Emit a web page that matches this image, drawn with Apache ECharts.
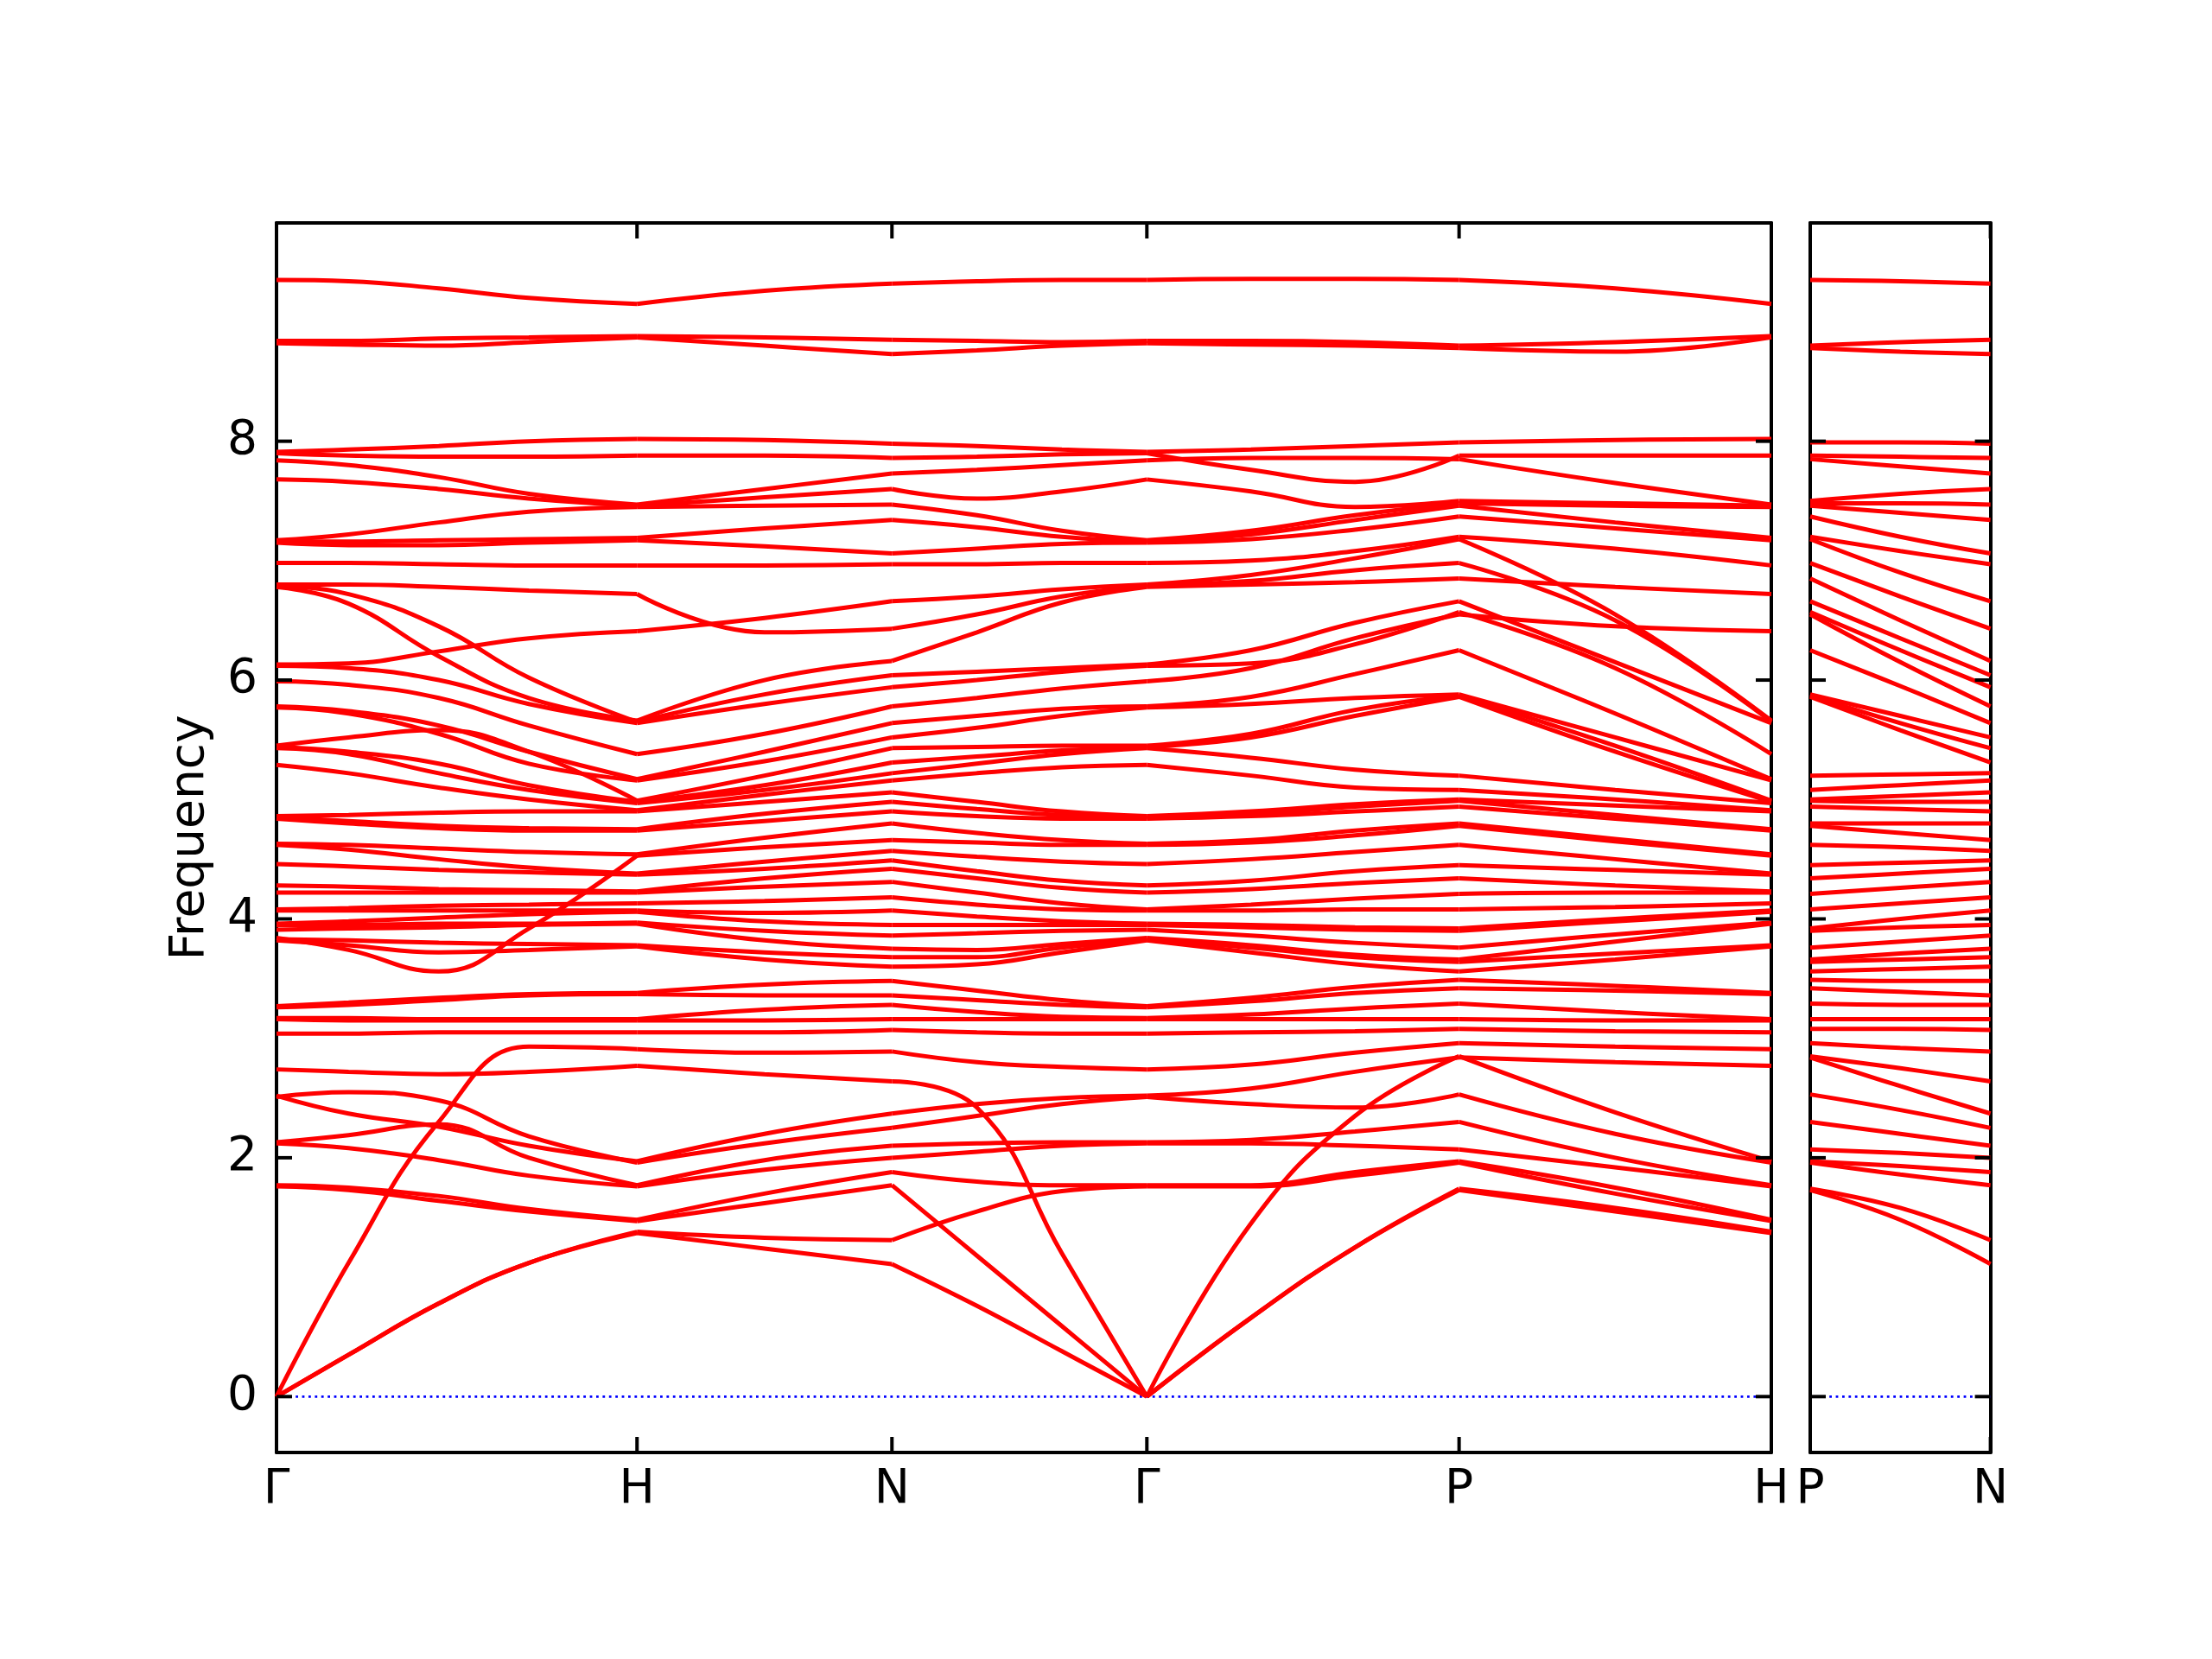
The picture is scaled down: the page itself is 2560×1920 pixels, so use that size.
<!DOCTYPE html>
<html><head><meta charset="utf-8">
<script src="https://cdn.jsdelivr.net/npm/echarts@6/dist/echarts.min.js"></script>
<style>html,body{margin:0;padding:0;background:#fff}#c{width:2560px;height:1920px}</style>
</head><body><div id="c"></div>
<script>
// high-symmetry path positions (reciprocal-space distance)
const kTicks = [0, 1.0, 1.7071, 2.4142, 3.2802, 4.1463];
const kLabels = ['Γ', 'H', 'N', 'Γ', 'P', 'H'];
const kTicks2 = [0, 0.5];
const kLabels2 = ['P', 'N'];
const yTicks = [0, 2, 4, 6, 8];

// sample positions of each path segment
const kGH = [0, 0.2, 0.45, 0.7, 1.0];
const kHN = [1.0, 1.3536, 1.7071];
const kNG = [1.7071, 1.9428, 2.1785, 2.4142];
const kGP = [2.4142, 2.7029, 2.9916, 3.2802];
const kPH = [3.2802, 3.7132, 4.1463];
const kPN = [0, 0.25, 0.5];

// frequencies, one row per band, per segment
const bandsGH = [
[9.35,9.34,9.28,9.20,9.15],[8.84,8.84,8.86,8.87,8.88],[8.82,8.81,8.80,8.83,8.87],
[7.91,7.93,7.96,8.00,8.02],[7.90,7.88,7.87,7.87,7.88],[7.84,7.80,7.70,7.56,7.47],
[7.68,7.66,7.60,7.52,7.46],[7.17,7.22,7.32,7.41,7.45],[7.16,7.16,7.17,7.18,7.19],
[7.15,7.13,7.13,7.15,7.17],[6.98,6.98,6.97,6.96,6.96],[6.80,6.80,6.78,6.75,6.72],
[6.13,6.14,6.24,6.35,6.41],[6.78,6.64,6.20,5.85,5.66],[6.79,6.72,6.45,6.02,5.65],
[6.12,6.10,6.00,5.80,5.64],[5.99,5.96,5.85,5.62,5.38],[5.78,5.74,5.62,5.40,5.17],
[5.77,5.72,5.55,5.30,5.16],[5.45,5.52,5.58,5.40,4.99],[5.44,5.40,5.30,5.12,4.98],
[5.43,5.38,5.22,5.08,4.97],[5.29,5.22,5.10,5.00,4.91],[4.86,4.87,4.89,4.90,4.90],
[4.85,4.82,4.78,4.76,4.75],[4.84,4.80,4.76,4.74,4.74],[4.63,4.62,4.59,4.56,4.54],
[4.62,4.58,4.50,4.43,4.38],[4.46,4.44,4.41,4.39,4.37],[4.28,4.27,4.25,4.24,4.23],
[4.22,4.22,4.22,4.22,4.22],[4.08,4.09,4.11,4.12,4.13],[4.07,4.07,4.07,4.07,4.07],
[3.96,3.98,4.01,4.04,4.06],[3.95,3.95,3.96,3.96,3.97],[3.91,3.92,3.93,3.95,3.96],
[3.84,3.74,3.56,3.92,4.53],[3.83,3.82,3.80,3.79,3.78],[3.82,3.78,3.72,3.74,3.77],
[3.27,3.30,3.34,3.37,3.38],[3.26,3.28,3.32,3.36,3.37],[3.17,3.17,3.16,3.16,3.16],
[3.16,3.15,3.15,3.15,3.15],
[3.04,3.04,3.05,3.05,3.05],[2.74,2.72,2.70,2.72,2.77],[0,1.12,2.30,2.93,2.91],
[2.52,2.37,2.26,2.10,1.97],[2.51,2.55,2.48,2.18,1.96],[2.13,2.19,2.28,2.00,1.77],
[2.12,2.08,1.98,1.85,1.76],[1.77,1.75,1.68,1.57,1.48],[1.76,1.73,1.64,1.55,1.47],
[0,0.35,0.78,1.12,1.38],[0,0.35,0.78,1.12,1.37]
];
const bandsHN = [
[9.15,9.26,9.32],[8.88,8.87,8.85],[8.87,8.80,8.73],[8.02,8.01,7.98],[7.88,7.88,7.86],
[7.47,7.60,7.73],[7.46,7.53,7.60],[7.45,7.46,7.47],[7.19,7.27,7.34],[7.17,7.12,7.06],
[6.96,6.96,6.97],[6.72,6.40,6.43],[6.41,6.52,6.66],[5.66,6.00,6.16],[5.65,5.88,6.04],
[5.64,5.80,5.94],[5.38,5.55,5.78],[5.17,5.40,5.64],[5.16,5.32,5.52],[4.99,5.20,5.43],
[4.98,5.12,5.31],[4.97,5.08,5.22],[4.91,5.04,5.16],[4.90,4.98,5.06],[4.75,4.88,4.98],
[4.74,4.82,4.90],[4.54,4.68,4.80],[4.53,4.60,4.66],[4.38,4.48,4.57],[4.37,4.42,4.49],
[4.23,4.34,4.42],[4.22,4.27,4.31],[4.13,4.15,4.18],[4.07,4.05,4.07],[4.06,3.98,3.95],
[3.97,3.90,3.86],[3.96,3.82,3.75],[3.78,3.72,3.68],[3.77,3.66,3.60],[3.38,3.45,3.48],
[3.37,3.36,3.36],[3.16,3.24,3.28],[3.15,3.15,3.16],
[3.05,3.05,3.07],[2.91,2.88,2.89],[2.77,2.70,2.64],[1.97,2.20,2.37],[1.96,2.12,2.25],
[1.77,1.98,2.10],[1.76,1.90,2.00],[1.48,1.70,1.88],[1.47,1.62,1.77],[1.38,1.33,1.31],
[1.37,1.24,1.11]
];
const bandsNG = [
[9.32,9.34,9.35,9.35],[8.85,8.84,8.83,8.84],[8.73,8.76,8.80,8.82],[7.98,7.96,7.93,7.91],
[7.86,7.87,7.89,7.90],[7.73,7.76,7.80,7.84],[7.60,7.52,7.58,7.68],[7.47,7.38,7.25,7.17],
[7.34,7.28,7.20,7.16],[7.06,7.10,7.14,7.15],[6.97,6.97,6.98,6.98],[6.66,6.70,6.76,6.80],
[6.43,6.55,6.70,6.79],[6.16,6.40,6.65,6.78],[6.04,6.07,6.10,6.13],[5.94,6.00,6.07,6.12],
[5.78,5.85,5.93,5.99],[5.64,5.70,5.76,5.78],[5.52,5.60,5.70,5.77],[5.43,5.44,5.45,5.45],
[5.31,5.36,5.41,5.44],[5.22,5.30,5.38,5.43],[5.16,5.22,5.27,5.29],[5.06,4.98,4.90,4.86],
[4.98,4.92,4.87,4.85],[4.90,4.86,4.84,4.84],[4.80,4.72,4.66,4.63],[4.66,4.64,4.62,4.62],
[4.57,4.52,4.48,4.46],[4.49,4.40,4.32,4.28],[4.42,4.34,4.26,4.22],[4.31,4.22,4.13,4.08],
[4.18,4.12,4.08,4.07],[4.07,4.02,3.98,3.96],[3.95,3.95,3.95,3.95],[3.86,3.88,3.90,3.91],
[3.75,3.74,3.79,3.84],[3.68,3.68,3.76,3.83],[3.60,3.62,3.72,3.82],[3.48,3.40,3.32,3.27],
[3.36,3.32,3.28,3.26],[3.28,3.22,3.18,3.17],[3.16,3.16,3.16,3.16],
[1.11,0.76,0.38,0],[1.77,1.18,0.59,0],[2.64,2.42,1.20,0],[1.31,1.55,1.72,1.76],
[1.88,1.80,1.77,1.77],[2.00,2.05,2.10,2.12],[2.10,2.12,2.13,2.13],[2.25,2.35,2.45,2.51],
[2.37,2.45,2.50,2.52],[2.89,2.80,2.76,2.74],[3.07,3.05,3.04,3.04]
];
const bandsGP = [
[9.35,9.36,9.36,9.35],[8.84,8.84,8.83,8.80],[8.82,8.81,8.80,8.78],[7.91,7.93,7.96,7.99],
[7.90,7.76,7.66,7.88],[7.84,7.86,7.86,7.85],[7.68,7.58,7.45,7.50],[7.17,7.25,7.38,7.48],
[7.16,7.22,7.34,7.46],[7.15,7.18,7.26,7.37],[6.98,7.00,7.08,7.20],[6.80,6.88,7.02,7.18],
[6.79,6.83,6.92,6.98],[6.78,6.80,6.82,6.85],[6.13,6.25,6.48,6.66],[6.12,6.14,6.30,6.57],
[5.99,6.10,6.35,6.55],[5.78,5.86,6.05,6.25],[5.77,5.80,5.85,5.88],[5.45,5.55,5.75,5.87],
[5.44,5.52,5.70,5.86],[5.43,5.35,5.25,5.20],[5.29,5.20,5.10,5.08],[4.86,4.90,4.96,5.00],
[4.85,4.88,4.94,4.99],[4.84,4.86,4.90,4.94],[4.63,4.66,4.74,4.80],[4.62,4.64,4.70,4.78],
[4.46,4.50,4.56,4.62],[4.28,4.32,4.40,4.45],[4.22,4.25,4.30,4.34],[4.08,4.12,4.17,4.21],
[4.07,4.07,4.08,4.08],[3.96,3.95,3.93,3.92],[3.95,3.93,3.91,3.90],[3.91,3.86,3.80,3.76],
[3.84,3.78,3.70,3.66],[3.83,3.76,3.68,3.64],[3.82,3.72,3.62,3.56],[3.27,3.34,3.43,3.49],
[3.26,3.31,3.38,3.42],[3.17,3.20,3.25,3.29],[3.16,3.16,3.16,3.16],
[0,0.66,1.25,1.73],[0,0.66,1.25,1.74],[0,1.45,2.35,2.85],[1.76,1.76,1.85,1.96],
[1.77,1.77,1.88,1.97],[2.12,2.12,2.10,2.07],[2.13,2.15,2.22,2.30],[2.51,2.45,2.42,2.53],
[2.52,2.58,2.72,2.84],[2.74,2.78,2.88,2.96],[3.04,3.05,3.06,3.08]
];
const bandsPH = [
[9.35,9.28,9.15],[8.80,8.83,8.88],[8.78,8.75,8.87],[7.99,8.01,8.02],[7.88,7.88,7.88],
[7.85,7.65,7.47],[7.50,7.48,7.46],[7.48,7.46,7.45],[7.46,7.32,7.19],[7.37,7.27,7.17],
[7.20,7.10,6.96],[7.18,6.55,5.66],[6.98,6.50,5.65],[6.85,6.78,6.72],[6.66,6.15,5.64],
[6.57,6.10,5.38],[6.55,6.45,6.41],[6.25,5.72,5.17],[5.88,5.52,5.16],[5.87,5.45,4.99],
[5.86,5.40,4.98],[5.20,5.08,4.97],[5.08,5.00,4.91],[5.00,4.95,4.90],[4.99,4.87,4.75],
[4.94,4.84,4.74],[4.80,4.67,4.54],[4.78,4.65,4.53],[4.62,4.50,4.38],[4.45,4.41,4.37],
[4.34,4.28,4.23],[4.21,4.22,4.22],[4.08,4.10,4.13],[3.92,4.00,4.07],[3.90,3.98,4.06],
[3.76,3.87,3.97],[3.66,3.81,3.96],[3.64,3.71,3.78],[3.56,3.66,3.77],[3.49,3.44,3.38],
[3.42,3.40,3.37],[3.29,3.22,3.16],[3.16,3.15,3.15],
[3.08,3.06,3.05],[2.96,2.93,2.91],[2.84,2.80,2.77],[2.85,2.38,1.97],[2.53,2.20,1.96],
[2.30,2.00,1.77],[2.07,1.92,1.76],[1.97,1.75,1.48],[1.96,1.70,1.47],[1.74,1.58,1.38],
[1.73,1.55,1.37]
];
const bandsPN = [
[9.35,9.34,9.32],[8.80,8.83,8.85],[8.78,8.75,8.73],[7.99,7.99,7.98],[7.88,7.87,7.86],
[7.85,7.79,7.73],[7.50,7.56,7.60],[7.48,7.48,7.47],[7.46,7.40,7.34],[7.37,7.20,7.06],
[7.20,7.08,6.97],[7.18,6.90,6.66],[6.98,6.70,6.43],[6.85,6.50,6.16],[6.66,6.35,6.04],
[6.57,6.25,5.94],[6.55,6.15,5.78],[6.25,5.95,5.64],[5.88,5.70,5.52],[5.87,5.64,5.43],
[5.86,5.58,5.31],[5.20,5.21,5.22],[5.08,5.12,5.16],[5.00,5.03,5.06],[4.99,4.98,4.98],
[4.94,4.92,4.90],[4.80,4.80,4.80],[4.78,4.72,4.66],[4.62,4.60,4.57],[4.45,4.47,4.49],
[4.34,4.38,4.42],[4.21,4.26,4.31],[4.08,4.13,4.18],[3.92,4.00,4.07],[3.90,3.93,3.95],
[3.76,3.81,3.86],[3.66,3.71,3.75],[3.64,3.66,3.68],[3.56,3.58,3.60],[3.49,3.48,3.48],
[3.42,3.39,3.36],[3.29,3.28,3.28],[3.16,3.16,3.16],[3.08,3.08,3.07],[2.96,2.92,2.89],
[2.85,2.75,2.64],[2.84,2.60,2.37],[2.53,2.40,2.25],[2.30,2.20,2.10],[2.07,2.04,2.00],
[1.97,1.93,1.88],[1.96,1.86,1.77],[1.74,1.58,1.31],[1.73,1.48,1.11]
];

const FONT = 'DejaVu Sans';
const RED = '#ff0000';
const K_END = kTicks[kTicks.length - 1];
const Y_MIN = -0.468, Y_MAX = 9.828;
const G1 = { left: 320, top: 258, width: 1730, height: 1423 };
const G2 = { left: 2095, top: 258, width: 208.6, height: 1423 };
const TICK_LEN = 18;

function nearestLabel(v, ticks, labels) {
  let best = 0;
  for (let i = 1; i < ticks.length; i++) if (Math.abs(ticks[i] - v) < Math.abs(ticks[best] - v)) best = i;
  return labels[best];
}
const LINE = { show: true, onZero: false, lineStyle: { color: '#000', width: 4 } };
function xAx(grid, ticks, labels, max, pos, showLabel) {
  return {
    type: 'value', gridIndex: grid, min: 0, max: max, position: pos,
    axisLine: LINE, splitLine: { show: false }, axisTick: { show: false },
    axisLabel: {
      show: showLabel, customValues: ticks, margin: 16, fontSize: 55, fontFamily: FONT, color: '#000',
      showMinLabel: true, showMaxLabel: true,
      formatter: v => nearestLabel(v, ticks, labels)
    }
  };
}
function yAx(grid, pos, showLabel, name) {
  const a = {
    type: 'value', gridIndex: grid, min: Y_MIN, max: Y_MAX, position: pos,
    axisLine: LINE, splitLine: { show: false }, axisTick: { show: false },
    axisLabel: { show: showLabel, customValues: yTicks, margin: 22, fontSize: 55, fontFamily: FONT, color: '#000' }
  };
  if (name) {
    a.name = name; a.nameLocation = 'middle'; a.nameGap = 72; a.nameRotate = 90;
    a.nameTextStyle = { fontSize: 55, fontFamily: FONT, color: '#000' };
  }
  return a;
}

const series = [];
function addSeg(ks, bands, xi, yi) {
  bands.forEach(b => {
    series.push({
      type: 'line', xAxisIndex: xi, yAxisIndex: yi, symbol: 'none', silent: true,
      smooth: 0.45, z: 3,
      lineStyle: { color: RED, width: 5 },
      data: ks.map((k, i) => [k, b[i]])
    });
  });
}
addSeg(kGH, bandsGH, 0, 0);
addSeg(kHN, bandsHN, 0, 0);
addSeg(kNG, bandsNG, 0, 0);
addSeg(kGP, bandsGP, 0, 0);
addSeg(kPH, bandsPH, 0, 0);
addSeg(kPN, bandsPN, 2, 2);

function zeroLine(xi, yi, xmax) {
  return { type: 'line', xAxisIndex: xi, yAxisIndex: yi, symbol: 'none', silent: true, z: 2,
    lineStyle: { color: '#0000ff', width: 2.8, type: [2.8, 4.6] }, data: [[0, 0], [xmax, 0]] };
}
series.push(zeroLine(0, 0, K_END));
series.push(zeroLine(2, 2, kTicks2[1]));

// inward tick marks on all four sides (short line series through the axes' scales)
function tickSeg(xi, yi, p, q) {
  return { type: 'line', xAxisIndex: xi, yAxisIndex: yi, symbol: 'none', silent: true, clip: false, z: 10,
    lineStyle: { color: '#000', width: 4, cap: 'butt' }, data: [p, q] };
}
function addTicks(xi, yi, g, xmax, xt) {
  const dy = TICK_LEN * (Y_MAX - Y_MIN) / g.height;
  const dx = TICK_LEN * xmax / g.width;
  xt.forEach(k => {
    series.push(tickSeg(xi, yi, [k, Y_MIN], [k, Y_MIN + dy]));
    series.push(tickSeg(xi, yi, [k, Y_MAX], [k, Y_MAX - dy]));
  });
  yTicks.forEach(v => {
    series.push(tickSeg(xi, yi, [0, v], [dx, v]));
    series.push(tickSeg(xi, yi, [xmax, v], [xmax - dx, v]));
  });
}
addTicks(0, 0, G1, K_END, kTicks);
addTicks(2, 2, G2, kTicks2[1], kTicks2);

const chart = echarts.init(document.getElementById('c'), null, { renderer: 'canvas', width: 2560, height: 1920 });
chart.setOption({
  animation: false,
  backgroundColor: '#ffffff',
  grid: [
    Object.assign({ show: false }, G1),
    Object.assign({ show: false }, G2)
  ],
  xAxis: [
    xAx(0, kTicks, kLabels, K_END, 'bottom', true),
    xAx(0, kTicks, kLabels, K_END, 'top', false),
    xAx(1, kTicks2, kLabels2, kTicks2[1], 'bottom', true),
    xAx(1, kTicks2, kLabels2, kTicks2[1], 'top', false)
  ],
  yAxis: [
    yAx(0, 'left', true, 'Frequency'),
    yAx(0, 'right', false),
    yAx(1, 'left', false),
    yAx(1, 'right', false)
  ],
  series: series
});
</script></body></html>
